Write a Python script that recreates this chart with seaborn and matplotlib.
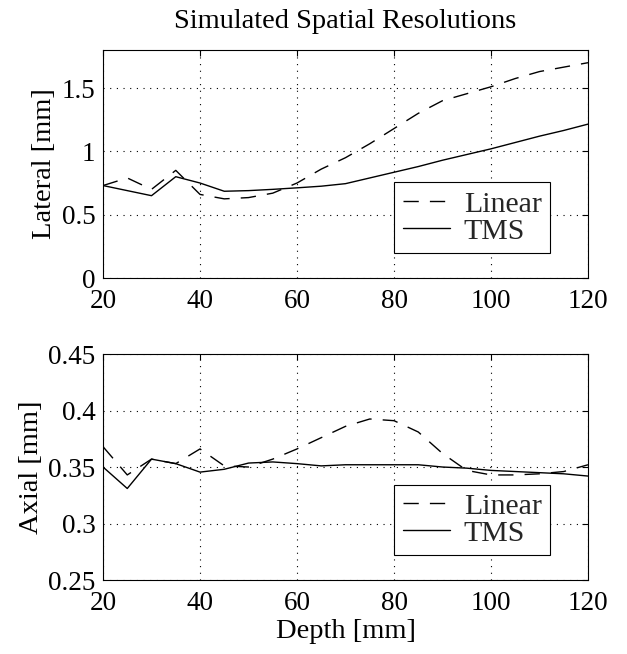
import numpy as np
import pandas as pd
import matplotlib
matplotlib.use("Agg")
import matplotlib.pyplot as plt
from matplotlib.ticker import FuncFormatter
import seaborn as sns

depth = [20, 25, 30, 35, 40, 45, 50, 55, 60, 65, 70, 75, 80, 85, 90, 95, 100, 105, 110, 115, 120]

lateral_linear = [0.73, 0.79, 0.70, 0.85, 0.66, 0.625, 0.635, 0.67, 0.75, 0.86, 0.95, 1.06, 1.18,
                  1.30, 1.40, 1.455, 1.51, 1.575, 1.63, 1.665, 1.70]
lateral_tms = [0.73, 0.69, 0.65, 0.80, 0.75, 0.685, 0.69, 0.70, 0.712, 0.725, 0.745, 0.79, 0.835,
               0.88, 0.93, 0.975, 1.02, 1.07, 1.12, 1.165, 1.215]

axial_linear = [0.368, 0.343, 0.357, 0.353, 0.366, 0.351, 0.350, 0.357, 0.366, 0.376, 0.386, 0.3925,
                0.391, 0.381, 0.362, 0.347, 0.343, 0.343, 0.344, 0.346, 0.352]
axial_tms = [0.350, 0.331, 0.357, 0.353, 0.3455, 0.348, 0.3535, 0.3545, 0.353, 0.351, 0.352, 0.352,
             0.352, 0.352, 0.350, 0.349, 0.347, 0.346, 0.345, 0.344, 0.342]

series_names = ["Linear", "TMS"]
title = "Simulated Spatial Resolutions"
xlabel = "Depth [mm]"
ylabels = ["Lateral [mm]", "Axial [mm]"]
xticks = [20, 40, 60, 80, 100, 120]
yticks_top = [0, 0.5, 1, 1.5]
yticks_bot = [0.25, 0.3, 0.35, 0.4, 0.45]

sns.set_theme(style="white")
plt.rcParams['font.family'] = ['Liberation Serif', 'DejaVu Serif']

FS_TICK = 19.5
FS_LAB = 20.5
FS_LEG = 21.5

def make_df(lin, tms):
    return pd.DataFrame({
        "Depth": depth * 2,
        "Value": lin + tms,
        "Method": [series_names[0]] * len(depth) + [series_names[1]] * len(depth),
    })

fig = plt.figure(figsize=(6.27, 6.54), dpi=100)
L, W = 0.1643, 0.7735
ax1 = fig.add_axes([L, 0.5749, W, 0.3486])
ax2 = fig.add_axes([L, 0.1131, W, 0.3456])

dash_map = {"Linear": (11, 8), "TMS": ""}

fmt = FuncFormatter(lambda v, p: ("%g" % v))

for ax, (lin, tms), ylab, yt, ylim in [
    (ax1, (lateral_linear, lateral_tms), ylabels[0], yticks_top, (0, 1.8)),
    (ax2, (axial_linear, axial_tms), ylabels[1], yticks_bot, (0.25, 0.45)),
]:
    df = make_df(lin, tms)
    sns.lineplot(data=df, x="Depth", y="Value", style="Method", dashes=dash_map,
                 color="black", linewidth=1.0, ax=ax, legend=True)
    ax.set_xlim(20, 120)
    ax.set_ylim(*ylim)
    ax.set_xticks(xticks)
    ax.set_yticks(yt)
    ax.yaxis.set_major_formatter(fmt)
    ax.grid(True, color="black", linestyle=(0, (1, 5)), linewidth=0.8)
    ax.tick_params(direction="in", length=4, width=0.8, top=True, right=True,
                   labelsize=FS_TICK, colors="black")
    ax.tick_params(axis="x", pad=8)
    ax.tick_params(axis="y", pad=5.5)
    for s in ax.spines.values():
        s.set_color("black")
        s.set_linewidth(0.8)
    ax.set_ylabel(ylab, fontsize=FS_LAB, color="black", labelpad=3)
    ax.set_xlabel("")
    leg = ax.legend(loc="lower right", bbox_to_anchor=(0.922, 0.11), fontsize=FS_LEG,
                    frameon=True, fancybox=False, framealpha=1, edgecolor="black",
                    handlelength=1.6, handletextpad=0.45, borderpad=0.28, labelspacing=0.0,
                    borderaxespad=0)
    leg.get_frame().set_linewidth(0.8)

ax2.set_xlabel(xlabel, fontsize=FS_LAB, color="black", labelpad=2)
fig.text(L + W / 2, 0.967, title, ha="center", va="center", fontsize=FS_LAB, color="black")

fig.savefig("out.png", dpi=100)
